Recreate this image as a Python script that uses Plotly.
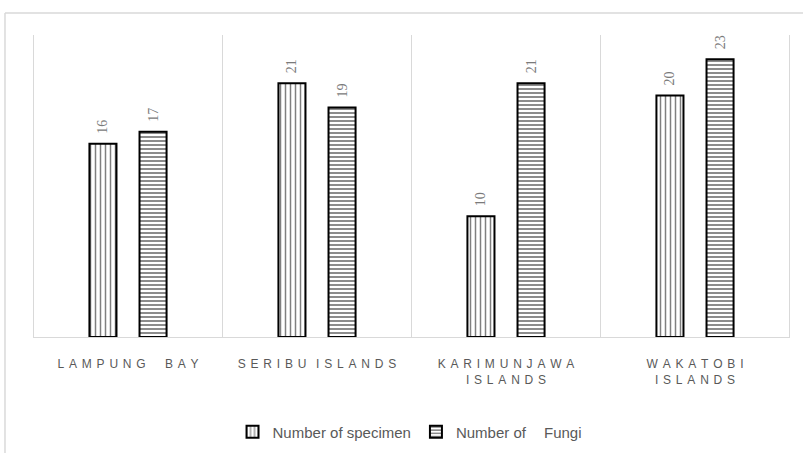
import plotly.graph_objects as go

categories = ["LAMPUNG BAY", "SERIBU ISLANDS", "KARIMUNJAWA ISLANDS", "WAKATOBI ISLANDS"]
tick_labels = ["LAMPUNG  BAY", "SERIBU ISLANDS", "KARIMUNJAWA<br>ISLANDS", "WAKATOBI<br>ISLANDS"]
specimen = [16, 21, 10, 20]
fungi = [17, 19, 21, 23]
series_names = ["Number of specimen", "Number of   Fungi"]

GAP = "\u2009\u2009"
WORD_GAP = "\u2009\u2009\u2009\u2009"


def spaced(s):
    lines = []
    for line in s.split("<br>"):
        words = [GAP.join(list(w)) for w in line.split(" ")]
        lines.append(WORD_GAP.join(words))
    return "<br>".join(lines)


gray = "#595959"
label_gray = "#7a7a7a"
grid = "#d9d9d9"

fig = go.Figure()
fig.add_trace(go.Bar(
    x=categories, y=specimen, name=series_names[0],
    marker=dict(color="white", line=dict(color="black", width=2),
                pattern=dict(shape="|", fgcolor="black", bgcolor="white", size=5, solidity=0.3)),
    text=["\u2002" + str(v) for v in specimen], textposition="outside", textangle=-90,
    textfont=dict(family="Liberation Serif", size=14, color=label_gray), cliponaxis=False,
))
fig.add_trace(go.Bar(
    x=categories, y=fungi, name=series_names[1].replace("   ", "\u2002\u2002\u2009"),
    marker=dict(color="white", line=dict(color="black", width=2),
                pattern=dict(shape="-", fgcolor="black", bgcolor="white", size=4, solidity=0.45)),
    text=["\u2002" + str(v) for v in fungi], textposition="outside", textangle=-90,
    textfont=dict(family="Liberation Serif", size=14, color=label_gray), cliponaxis=False,
))

shapes = []
for xb in [-0.5, 0.5, 1.5, 2.5, 3.5]:
    shapes.append(dict(type="line", xref="x", yref="y", x0=xb, x1=xb, y0=0, y1=25,
                       line=dict(color=grid, width=1), layer="below"))
# outer chart frame
shapes.append(dict(type="line", xref="paper", yref="paper", x0=-0.037, x1=-0.037, y0=1.073, y1=-0.5,
                   line=dict(color=grid, width=1.5)))
shapes.append(dict(type="line", xref="paper", yref="paper", x0=-0.037, x1=1.05, y0=1.073, y1=1.073,
                   line=dict(color=grid, width=1.5)))

fig.update_layout(
    width=803, height=453,
    margin=dict(l=33, r=13, t=35, b=116, autoexpand=False),
    paper_bgcolor="white", plot_bgcolor="white",
    barmode="group", bargap=0.47, bargroupgap=0.46,
    showlegend=True,
    legend=dict(orientation="h", x=0.51, xanchor="center", xref="container",
                y=1 - 432 / 453, yanchor="middle", yref="container",
                font=dict(family="Liberation Sans", size=15, color=gray), itemwidth=30,
                traceorder="normal"),
    xaxis=dict(tickmode="array", tickvals=categories, ticktext=[spaced(t) for t in tick_labels],
               tickfont=dict(family="Liberation Sans", size=12, color=gray),
               showline=True, linecolor=grid, linewidth=1, ticks="", showgrid=False,
               ticklabelstandoff=16, automargin=False),
    yaxis=dict(range=[0, 25], visible=False, showgrid=False, zeroline=False),
    shapes=shapes,
    font=dict(family="Liberation Sans", color=gray),
)

fig.write_html("out.html", config={"displayModeBar": False},
               post_script="document.body.style.margin='0';")
